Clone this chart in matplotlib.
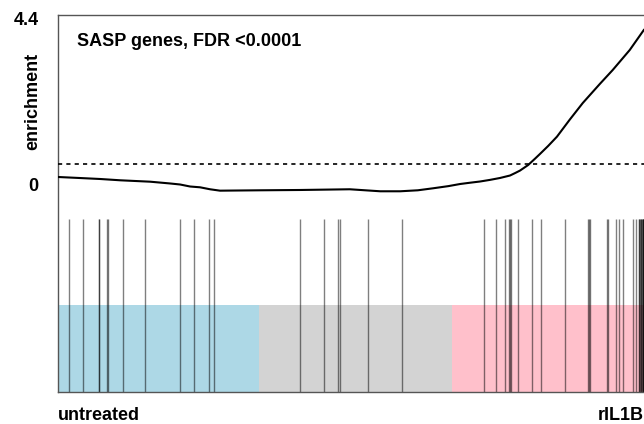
import matplotlib
matplotlib.use('Agg')
import matplotlib.pyplot as plt
import numpy as np

plt.rcParams['font.family'] = ['Liberation Sans', 'DejaVu Sans']
plt.rcParams['font.weight'] = 'bold'

# gene set positions in the ranked list (fraction of list, untreated -> rIL1B)
barcode_pos = [0.019, 0.042, 0.069, 0.070, 0.084, 0.085, 0.110, 0.148, 0.208, 0.232,
               0.258, 0.266, 0.412, 0.454, 0.4775, 0.4804, 0.528, 0.586,
               0.726, 0.746, 0.762, 0.768, 0.770, 0.771, 0.784, 0.807, 0.822, 0.864,
               0.903, 0.904, 0.9055, 0.935, 0.937, 0.951, 0.956, 0.963, 0.979,
               0.985, 0.989, 0.9905, 0.9915, 0.993, 0.994, 0.995, 0.996, 0.9966,
               0.997, 0.998, 0.999]

# enrichment worm
worm_x = [0.0, 0.036, 0.072, 0.106, 0.157, 0.191, 0.208, 0.225, 0.242, 0.259,
          0.276, 0.310, 0.344, 0.412, 0.497, 0.549, 0.583, 0.613, 0.639, 0.665,
          0.685, 0.702, 0.719, 0.736, 0.753, 0.770, 0.779, 0.787, 0.801, 0.813,
          0.821, 0.835, 0.850, 0.872, 0.894, 0.923, 0.945, 0.974, 0.998]
worm_e = [0.211, 0.185, 0.158, 0.124, 0.087, 0.040, 0.013, -0.040, -0.061, -0.113,
          -0.150, -0.145, -0.140, -0.132, -0.113, -0.166, -0.166, -0.140, -0.087, -0.030,
          0.026, 0.060, 0.092, 0.135, 0.185, 0.250, 0.317, 0.380, 0.528, 0.700,
          0.818, 1.030, 1.275, 1.729, 2.164, 2.666, 3.035, 3.563, 4.091]
expected_e = 0.554
worm_ticks = [0, 4.4]
worm_ticklabels = ['0', '4.4']

# coloured bands under the barcode
band_edges = [0.0, 0.3424, 0.6712, 1.0]
band_colors = ['lightblue', 'lightgray', 'pink']

title = 'SASP genes, FDR <0.0001'
left_label = 'untreated'
right_label = 'rIL1B'

# vertical layout inside the axes (axes fraction)
band_top = 0.2308
bar_top = 0.4589
worm_zero = 0.5491
worm_scale = 0.1005


def worm_y(e):
    return worm_zero + np.asarray(e) * worm_scale


fig = plt.figure(figsize=(6.44, 4.24), dpi=100)
ax = fig.add_axes([58/644, 32/424, 587/644, 377/424])
ax.set_xlim(0, 1)
ax.set_ylim(0, 1)

for i, c in enumerate(band_colors):
    ax.axvspan(band_edges[i], band_edges[i+1], ymin=0, ymax=band_top,
               color=c, lw=0, zorder=1)

ax.vlines(barcode_pos, 0, bar_top, color='black', alpha=0.5, lw=1, zorder=2)

ax.axhline(worm_y(expected_e), color='black', lw=1.2, dashes=(2.5, 2.5), zorder=3)
ax.plot(worm_x, worm_y(worm_e), color='black', lw=1.5, zorder=4)

ax.set_xticks([])
ax.set_yticks(worm_y(worm_ticks))
ax.set_yticklabels(worm_ticklabels, fontsize=13, fontweight='bold')
ax.tick_params(axis='y', length=0, pad=14)
for s in ax.spines.values():
    s.set_color('#555555')
    s.set_linewidth(1)

ax.text(0.0324, 0.9178, title, transform=ax.transAxes, fontsize=13,
        fontweight='bold', va='baseline', ha='left')
fig.text(32.3/644, 1 - 101.7/424, 'enrichment', rotation=90, fontsize=13,
         fontweight='bold', ha='center', va='center')
fig.text(58/644, 4/424, left_label, fontsize=13, fontweight='bold',
         ha='left', va='baseline')
fig.text(644/644, 4/424, right_label, fontsize=13, fontweight='bold',
         ha='right', va='baseline')

fig.savefig('out.png', dpi=100)
